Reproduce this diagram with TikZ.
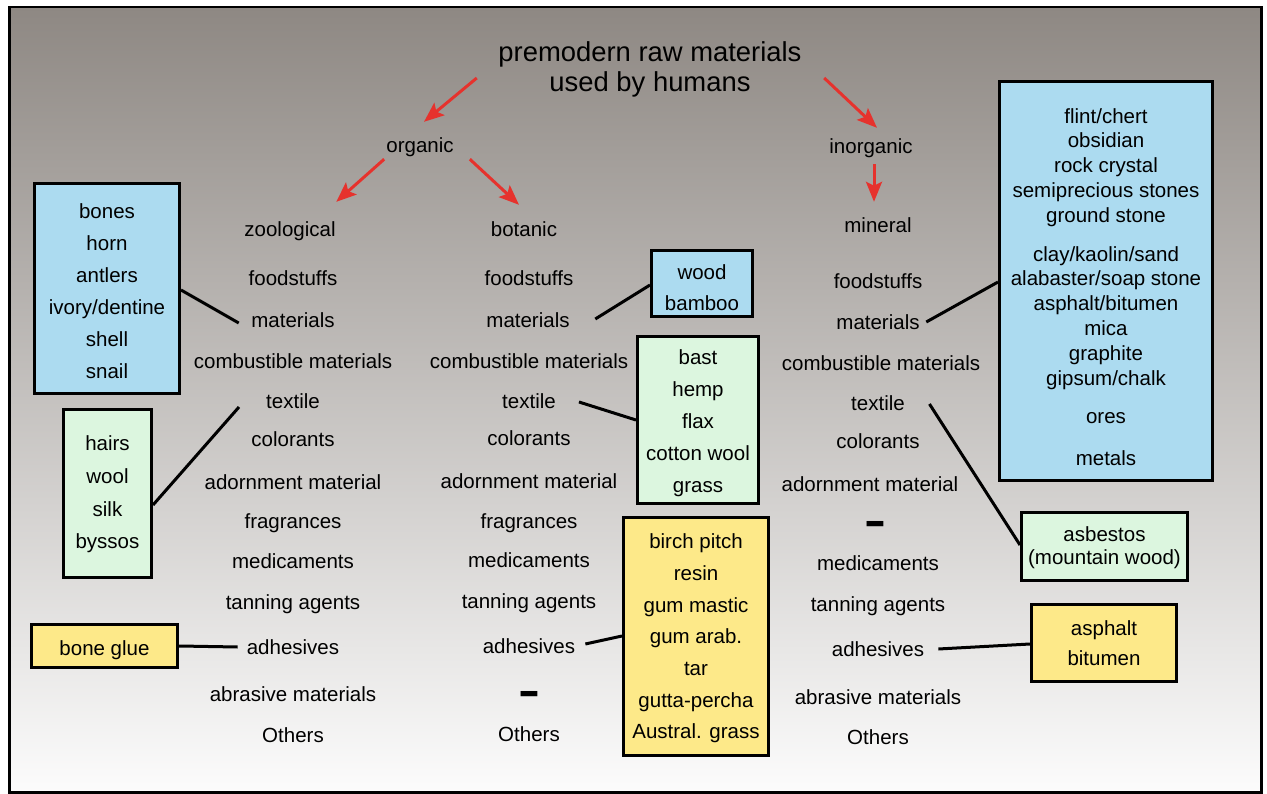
\documentclass[tikz,border=0pt]{standalone}
\usepackage{fontspec}
\setmainfont{Liberation Sans}
\usetikzlibrary{arrows.meta,calc}
\definecolor{bgtop}{RGB}{142,136,131}
\definecolor{bgmid}{RGB}{197,193,190}
\definecolor{bgbot}{RGB}{252,252,252}
\definecolor{boxblue}{RGB}{172,219,240}
\definecolor{boxgreen}{RGB}{220,246,223}
\definecolor{boxyellow}{RGB}{253,233,137}
\definecolor{arrred}{RGB}{230,50,45}
\newcommand{\padtop}[1]{\rule{0pt}{#1}}
\begin{document}
\begin{tikzpicture}[x=1pt,y=-1pt,
  lbl/.style={font=\fontsize{20.5}{24}\selectfont, text height=17pt, text depth=2pt, inner sep=2pt},
  box/.style={draw=black, line width=3pt, align=center, inner sep=0pt, font=\fontsize{20.5}{32}\selectfont},
  bluebox/.style={box, fill=boxblue},
  greenbox/.style={box, fill=boxgreen},
  yellowbox/.style={box, fill=boxyellow},
  nodash/.style={font=\bfseries\fontsize{44}{44}\selectfont, inner sep=0pt},
  redarrow/.style={draw=arrred, line width=3pt, -{Stealth[length=20pt,width=16pt,inset=4pt]}},
  link/.style={draw=black, line width=3pt}]
\useasboundingbox (0,0) rectangle (1267,794);
\fill[white] (0,0) rectangle (1267,794);
\shade[top color=bgtop, middle color=bgmid, bottom color=bgbot] (9.5,7) rectangle (1261.5,792.5);
\draw[line width=2.5pt] (9.5,7) rectangle (1261.5,792.5);

\node[font=\fontsize{27.4}{30}\selectfont, align=center, inner sep=2pt] (title) at (650,69) {premodern raw materials\\used by humans};
\node[lbl] (organic) at (420,145) {organic};
\node[lbl] (inorganic) at (871,146) {inorganic};
\node[lbl] (zoological) at (290,229) {zoological};
\node[lbl] (botanic) at (524,229) {botanic};
\node[lbl] (mineral) at (878,225) {mineral};

\draw[redarrow] ($(title.west)+(-19.5,9)$) -- ($(organic.north)+(4,-11.5)$);
\draw[redarrow] ($(organic.south west)+(0,2.5)$) -- ($(zoological.north east)+(-1.5,-15.5)$);
\draw[redarrow] ($(organic.south east)+(14,2.5)$) -- ($(botanic.north)+(-5,-12.5)$);
\draw[redarrow] ($(title.east)+(20.5,9)$) -- ($(inorganic.north)+(6,-6.5)$);
\draw[redarrow] ($(inorganic.south)+(3,6.5)$) -- ($(mineral.north)+(-4,-11.5)$);

\node[lbl] (zfood) at (293,278) {foodstuffs};
\node[lbl] (zmat) at (293,320) {materials};
\node[lbl] (zcomb) at (293,361) {combustible materials};
\node[lbl] (ztex) at (293,401) {textile};
\node[lbl] (zcol) at (293,439) {colorants};
\node[lbl] (zadorn) at (293,482) {adornment material};
\node[lbl] (zfrag) at (293,521) {fragrances};
\node[lbl] (zmed) at (293,561) {medicaments};
\node[lbl] (ztan) at (293,602) {tanning agents};
\node[lbl] (zadh) at (293,647) {adhesives};
\node[lbl] (zabr) at (293,694) {abrasive materials};
\node[lbl] (zoth) at (293,735) {Others};

\node[lbl] (bfood) at (529,278) {foodstuffs};
\node[lbl] (bmat) at (528,320) {materials};
\node[lbl] (bcomb) at (529,361) {combustible materials};
\node[lbl] (btex) at (529,401) {textile};
\node[lbl] (bcol) at (529,438) {colorants};
\node[lbl] (badorn) at (529,481) {adornment material};
\node[lbl] (bfrag) at (529,521) {fragrances};
\node[lbl] (bmed) at (529,560) {medicaments};
\node[lbl] (btan) at (529,601) {tanning agents};
\node[lbl] (badh) at (529,646) {adhesives};
\node[nodash] (bdash) at (529,698) {\scalebox{1.5}[1]{-}};
\node[lbl] (both) at (529,734) {Others};

\node[lbl] (mfood) at (878,281) {foodstuffs};
\node[lbl] (mmat) at (878,322) {materials};
\node[lbl] (mcomb) at (881,363) {combustible materials};
\node[lbl] (mtex) at (878,403) {textile};
\node[lbl] (mcol) at (878,441) {colorants};
\node[lbl] (madorn) at (870,484) {adornment material};
\node[nodash] (mdash) at (875,528) {\scalebox{1.5}[1]{-}};
\node[lbl] (mmed) at (878,563) {medicaments};
\node[lbl] (mtan) at (878,604) {tanning agents};
\node[lbl] (madh) at (878,649) {adhesives};
\node[lbl] (mabr) at (878,697) {abrasive materials};
\node[lbl] (moth) at (878,737) {Others};

\node[bluebox, minimum width=145, minimum height=210] (zbone) at (107,288.5) {\padtop{21pt}bones\\horn\\antlers\\ivory/dentine\\shell\\snail};
\node[greenbox, minimum width=88, minimum height=168, font=\fontsize{20.5}{32.7}\selectfont] (zhair) at (107.5,493.5) {\padtop{17pt}hairs\\wool\\silk\\byssos};
\node[yellowbox, minimum width=146, minimum height=43] (zglue) at (104.5,646) {\padtop{23pt}bone glue};

\node[bluebox, minimum width=101, minimum height=66, font=\fontsize{20.5}{31}\selectfont] (bwood) at (702,283.5) {\padtop{23pt}wood\\bamboo};
\node[greenbox, minimum width=121, minimum height=167] (bbast) at (698,420) {\padtop{21pt}bast\\hemp\\flax\\cotton wool\\grass};
\node[yellowbox, minimum width=145, minimum height=238, font=\fontsize{20.5}{31.7}\selectfont] (bresin) at (696,636.5) {\padtop{19pt}birch pitch\\resin\\gum mastic\\gum arab.\\tar\\gutta-percha\\Austral. grass};

\node[bluebox, minimum width=213, minimum height=399, font=\fontsize{20.5}{24.8}\selectfont] (mstone) at (1106,281) {\padtop{27pt}flint/chert\\obsidian\\rock crystal\\semiprecious stones\\ground stone\\[14pt]clay/kaolin/sand\\alabaster/soap stone\\asphalt/bitumen\\mica\\graphite\\gipsum/chalk\\[14pt]ores\\[17pt]metals};
\node[greenbox, minimum width=166, minimum height=68, font=\fontsize{20.5}{23}\selectfont] (masb) at (1104.5,546.5) {\padtop{17pt}asbestos\\(mountain wood)};
\node[yellowbox, minimum width=145, minimum height=77, font=\fontsize{20.5}{30}\selectfont] (masph) at (1104,643) {\padtop{15pt}asphalt\\bitumen};

\draw[link] ($(zbone.east)+(0,1.5)$) -- ($(zmat.west)+(-10.5,3)$);
\draw[link] ($(zhair.east)+(0,11.5)$) -- ($(ztex.west)+(-25,6)$);
\draw[link] (zglue.east) -- ($(zadh.west)+(-7,0)$);
\draw[link] ($(bmat.east)+(23.5,-1)$) -- ($(bwood.west)+(0,1.5)$);
\draw[link] ($(btex.east)+(21,1)$) -- (bbast.west);
\draw[link] ($(badh.east)+(8,-2)$) -- ($(bresin.west)+(0,-0.5)$);
\draw[link] ($(mmat.east)+(4.5,0)$) -- ($(mstone.west)+(0,1)$);
\draw[link] ($(mtex.east)+(22.5,1)$) -- ($(masb.west)+(0,-1.5)$);
\draw[link] ($(madh.east)+(12,0)$) -- ($(masph.west)+(0,1)$);
\end{tikzpicture}
\end{document}
